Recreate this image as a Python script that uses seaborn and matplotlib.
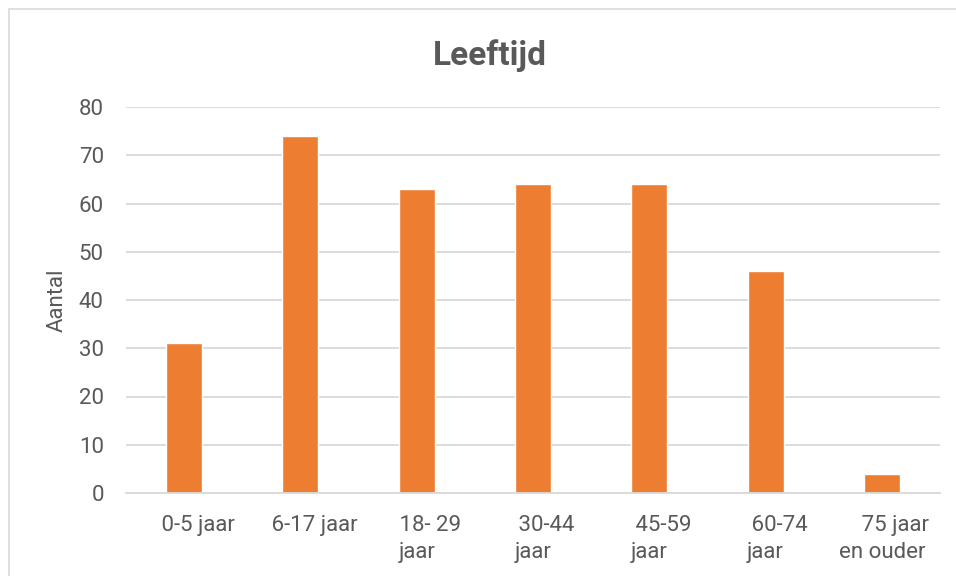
import matplotlib
matplotlib.use("Agg")
import matplotlib.pyplot as plt
from matplotlib.patches import Rectangle
import seaborn as sns
import pandas as pd

# Age groups and head counts
categories = ["0-5 jaar", "6-17 jaar", "18- 29 jaar", "30-44 jaar",
              "45-59 jaar", "60-74 jaar", "75 jaar en ouder"]
tick_labels = ["     0-5 jaar", "     6-17 jaar", "     18- 29\njaar",
               "     30-44\njaar", "     45-59\njaar", "     60-74\njaar",
               "     75 jaar\nen ouder"]
counts = [31, 74, 63, 64, 64, 46, 4]
y_ticks = [0, 10, 20, 30, 40, 50, 60, 70, 80]

df = pd.DataFrame({"Leeftijd": categories, "Aantal": counts})

sns.set_theme(style="white")
plt.rcParams["font.family"] = ["Roboto", "DejaVu Sans"]

text_color = "#595959"
grid_color = "#D9D9D9"
bar_color = "#ED7D31"

fig = plt.figure(figsize=(9.56, 5.76), dpi=100)
ax = fig.add_axes([126 / 956, 1 - 493 / 576, (940 - 126) / 956, (493 - 107) / 576])

sns.barplot(data=df, x="Leeftijd", y="Aantal", color=bar_color,
            width=0.31, saturation=1, ax=ax, zorder=3)

ax.set_ylim(0, 80)
ax.set_xlim(-0.5, len(categories) - 0.5)
ax.set_yticks(y_ticks)
ax.yaxis.grid(True, color=grid_color, linewidth=1.3, zorder=0)
ax.set_axisbelow(True)
for side in ["top", "right", "left"]:
    ax.spines[side].set_visible(False)
ax.spines["bottom"].set_color(grid_color)
ax.spines["bottom"].set_linewidth(1.3)
ax.spines["bottom"].set_zorder(4)

ax.tick_params(axis="y", length=0, pad=16, labelsize=16, labelcolor=text_color)
ax.tick_params(axis="x", length=0, pad=16, labelsize=16, labelcolor=text_color)
ax.set_xticks(range(len(categories)))
ax.set_xticklabels(tick_labels, linespacing=1.35, multialignment="center")

ax.set_xlabel("")
ax.set_ylabel("Aantal", fontsize=16, color=text_color)
ax.yaxis.label.set_va("center")
ax.yaxis.set_label_coords((57 - 126) / 814, 0.5)

fig.text(490 / 956, 1 - 65 / 576, "Leeftijd", ha="center", va="baseline",
         fontsize=24, fontweight="bold", color=text_color)

# Chart area frame
fig.add_artist(Rectangle((9 / 956, -0.1), 1.5, 1.1 - 9 / 576,
                         transform=fig.transFigure, fill=False,
                         edgecolor=grid_color, linewidth=1.2))

fig.savefig("out.png", dpi=100)
